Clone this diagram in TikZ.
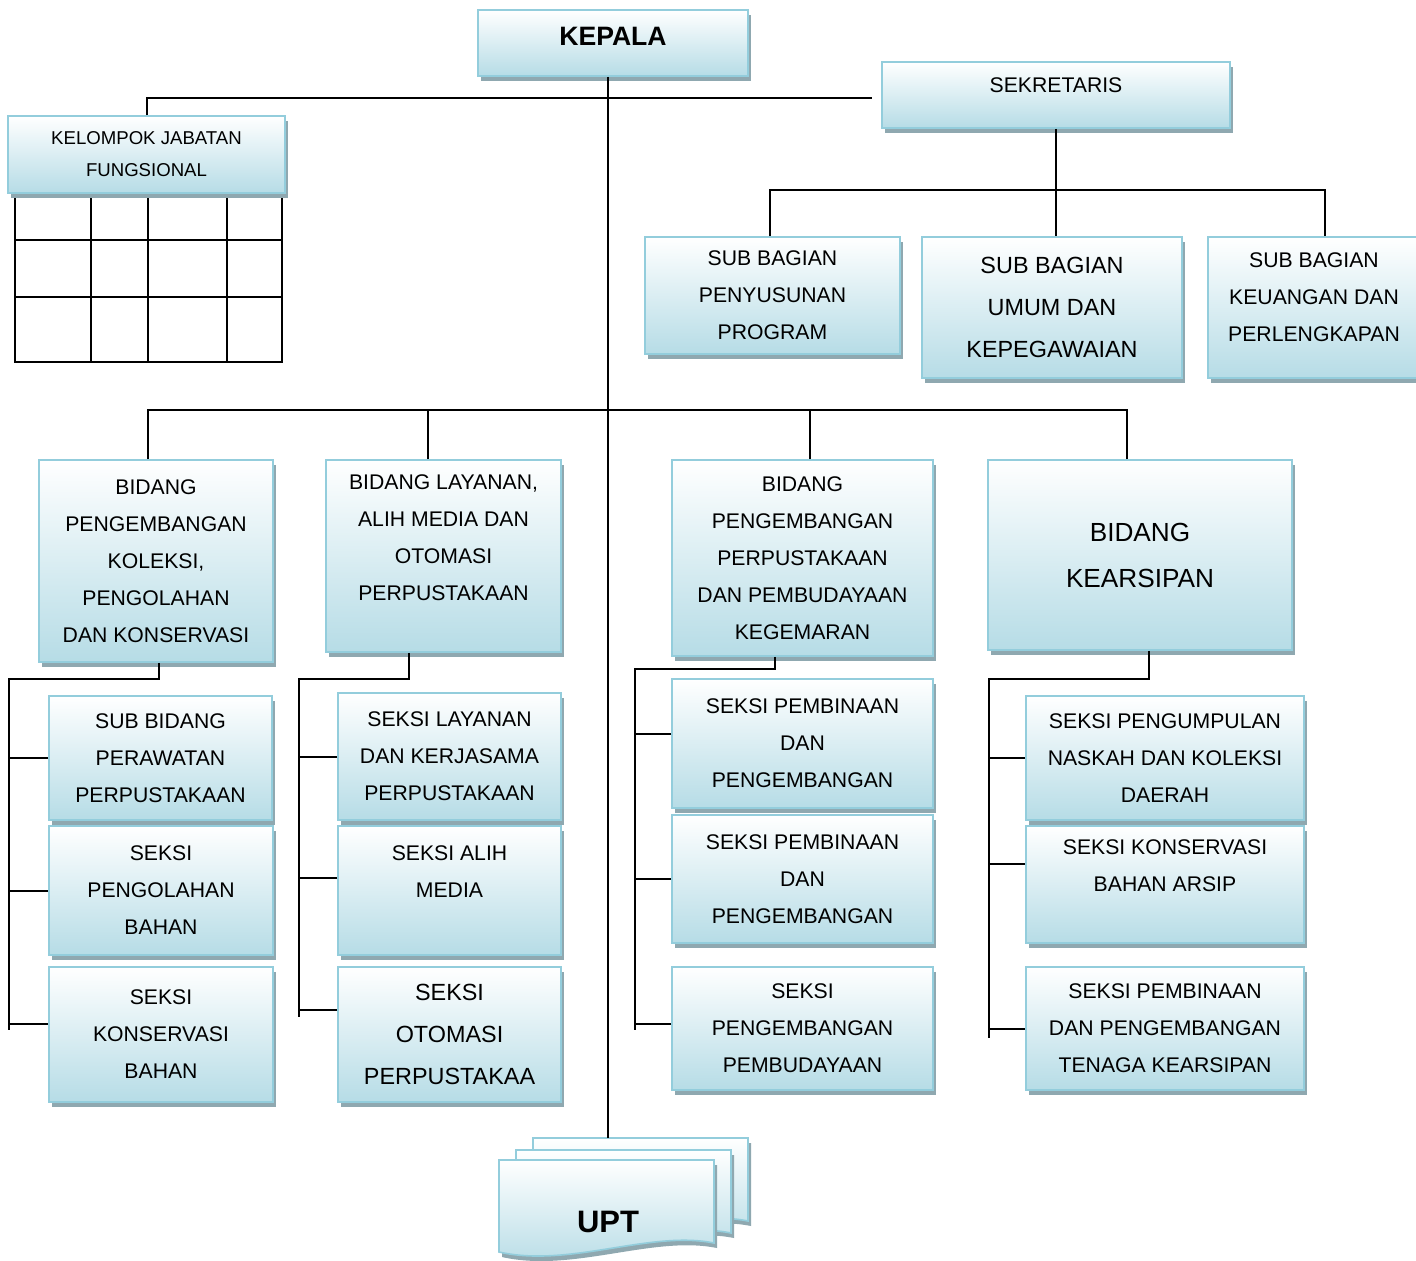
\documentclass[tikz,border=0pt]{standalone}
\usepackage{fontspec}
\setmainfont{Liberation Sans}
\definecolor{orgLine}{HTML}{93CDDC}
\definecolor{orgTop}{HTML}{FFFFFF}
\definecolor{orgBottom}{HTML}{B6DCE6}
\definecolor{orgShadow}{HTML}{8FA8B0}
\usepackage{tikz}
\usetikzlibrary{positioning,shadows}

\newcommand{\orgNormal}{\fontsize{10.6}{18.5}\selectfont}
\newcommand{\orgLarge}{\fontsize{11.7}{20.8}\selectfont}
\newcommand{\orgSmall}{\fontsize{9.3}{16}\selectfont}

\tikzset{
  orgbox/.style={draw=orgLine, line width=0.8pt, top color=orgTop, bottom color=orgBottom,
    drop shadow={shadow xshift=1.5pt, shadow yshift=-2.5pt, fill=orgShadow, opacity=1},
    align=center, inner sep=0pt, font=\orgNormal},
  orgsheet/.style={draw=orgLine, line width=0.8pt, top color=orgTop, bottom color=orgBottom,
    drop shadow={shadow xshift=1.5pt, shadow yshift=-2.5pt, fill=orgShadow, opacity=1}},
  boxsize/.style 2 args={minimum width=#1*0.5pt, minimum height=#2*0.5pt},
  link/.style={draw=black, line width=1pt},
}

\begin{document}
\begin{tikzpicture}[x=0.5pt, y=-0.5pt]
  \fill[white] (0,0) rectangle (1416,1260);
  \useasboundingbox (0,0) rectangle (1416,1260);

  % grid under jabatan fungsional
  \draw[line width=1pt] (15,193) rectangle (282,362);
  \foreach \gx in {91,148,227} \draw[line width=1pt] (\gx,193) -- (\gx,362);
  \foreach \gy in {240,297} \draw[line width=1pt] (15,\gy) -- (282,\gy);

  % top level
  \node[orgbox, boxsize={270}{66}, font=\bfseries\fontsize{13.3}{16}\selectfont, text depth=7pt] (kepala) at (613,43) {KEPALA};
  \node[orgbox, boxsize={348}{66}, text depth=10pt] (sekretaris) at (1056,95) {SEKRETARIS};
  \node[orgbox, boxsize={277}{77}, font=\orgSmall] (kelompok) at (146.5,154.5) {KELOMPOK JABATAN\\FUNGSIONAL};

  % sub bagian
  \node[orgbox, boxsize={255}{117}] (penyusunan) at (772.5,295.5) {SUB BAGIAN\\PENYUSUNAN\\PROGRAM};
  \node[orgbox, boxsize={260}{141}, font=\orgLarge] (umum) at (1052,307.5) {SUB BAGIAN\\UMUM DAN\\KEPEGAWAIAN};
  \node[orgbox, boxsize={212}{141}] (keuangan) at (1314,307.5) {SUB BAGIAN\\KEUANGAN DAN\\PERLENGKAPAN\\[-8pt]\mbox{}};

  % bidang
  \node[orgbox, boxsize={234}{202}] (koleksi) at (156,561) {BIDANG\\PENGEMBANGAN\\KOLEKSI,\\PENGOLAHAN\\DAN KONSERVASI};
  \node[orgbox, boxsize={235}{192}] (layanan) at (443.5,556) {BIDANG LAYANAN,\\ALIH MEDIA DAN\\OTOMASI\\PERPUSTAKAAN\\\mbox{}};
  \node[orgbox, boxsize={261}{196}] (pustaka) at (802.5,558) {BIDANG\\PENGEMBANGAN\\PERPUSTAKAAN\\DAN PEMBUDAYAAN\\KEGEMARAN};
  \node[orgbox, boxsize={304}{190}, font=\fontsize{13.1}{23}\selectfont] (arsip) at (1140,555) {BIDANG\\KEARSIPAN};

  % seksi, column 1
  \node[orgbox, boxsize={223}{124}] (rawat) at (160.5,758) {SUB BIDANG\\PERAWATAN\\PERPUSTAKAAN};
  \node[orgbox, boxsize={224}{129}] (olah) at (161,890.5) {SEKSI\\PENGOLAHAN\\BAHAN};
  \node[orgbox, boxsize={224}{135}] (konsbahan) at (161,1034.5) {SEKSI\\KONSERVASI\\BAHAN};
  % seksi, column 2
  \node[orgbox, boxsize={223}{127}] (kerjasama) at (449.5,756.5) {SEKSI LAYANAN\\DAN KERJASAMA\\PERPUSTAKAAN};
  \node[orgbox, boxsize={223}{129}] (alih) at (449.5,890.5) {SEKSI ALIH\\MEDIA\\\mbox{}};
  \node[orgbox, boxsize={223}{135}, font=\orgLarge] (otomasi) at (449.5,1034.5) {SEKSI\\OTOMASI\\PERPUSTAKAA};
  % seksi, column 3
  \node[orgbox, boxsize={261}{129}] (bina) at (802.5,743.5) {SEKSI PEMBINAAN\\DAN\\PENGEMBANGAN};
  \node[orgbox, boxsize={261}{128}] (binadua) at (802.5,879) {SEKSI PEMBINAAN\\DAN\\PENGEMBANGAN};
  \node[orgbox, boxsize={261}{123}] (budaya) at (802.5,1028.5) {SEKSI\\PENGEMBANGAN\\PEMBUDAYAAN};
  % seksi, column 4
  \node[orgbox, boxsize={278}{124}] (naskah) at (1165,758) {SEKSI PENGUMPULAN\\NASKAH DAN KOLEKSI\\DAERAH};
  \node[orgbox, boxsize={278}{117}] (konsarsip) at (1165,884.5) {SEKSI KONSERVASI\\BAHAN ARSIP\\\mbox{}};
  \node[orgbox, boxsize={278}{123}] (tenaga) at (1165,1028.5) {SEKSI PEMBINAAN\\DAN PENGEMBANGAN\\TENAGA KEARSIPAN};

  % UPT stack
  \foreach \dx/\dy in {34/-22, 17/-10, 0/0}
    \path[orgsheet] (499+\dx,1160+\dy) -- (714+\dx,1160+\dy) -- (714+\dx,1243+\dy)
      .. controls (650+\dx,1230+\dy) and (570+\dx,1268+\dy) .. (499+\dx,1252+\dy) -- cycle;
  \node[font=\bfseries\fontsize{15.5}{18}\selectfont] (upt) at (608,1222) {UPT};

  % spine
  \coordinate (upttop) at (608,1138);
  \draw[link] (kepala.south -| upttop) -- (upttop);
  \draw[link] (kelompok.north) |- ([xshift=-4.5pt,yshift=-1.5pt]sekretaris.west);

  % sekretaris bus
  \coordinate (sekbus) at (1056,190);
  \draw[link] (sekretaris.south) -- (sekbus) -- (sekbus |- umum.north);
  \draw[link] ([xshift=-1.25pt]penyusunan.north) |- (sekbus);
  \draw[link] ([xshift=5.5pt]keuangan.north) |- (sekbus);

  % bidang bus
  \coordinate (bidbus) at (608,410);
  \draw[link] ([xshift=-4pt]koleksi.north) |- (bidbus);
  \draw[link] ([xshift=-7.75pt]layanan.north) |- (bidbus);
  \draw[link] ([xshift=3.75pt]pustaka.north) |- (bidbus);
  \draw[link] ([xshift=-6.5pt]arsip.north) |- (bidbus);

  % column 1 rail
  \coordinate (kolrail) at (9,679);
  \coordinate (kolend) at (9,1030);
  \draw[link] ([xshift=1.5pt]koleksi.south) |- (kolrail) -- (kolend);
  \draw[link] (rawat.west) -| (kolrail);
  \draw[link] (olah.west) -| (kolrail);
  \draw[link] ([yshift=5.25pt]konsbahan.west) -| (kolrail);

  % column 2 rail
  \coordinate (layrail) at (299,679);
  \coordinate (layend) at (299,1017);
  \draw[link] ([xshift=-17.25pt]layanan.south) |- (layrail) -- (layend);
  \draw[link] (kerjasama.west) -| (layrail);
  \draw[link] ([yshift=6.25pt]alih.west) -| (layrail);
  \draw[link] ([yshift=12.25pt]otomasi.west) -| (layrail);

  % column 3 rail
  \coordinate (pusrail) at (635,669);
  \coordinate (pusend) at (635,1030);
  \draw[link] ([xshift=-13.75pt]pustaka.south) |- (pusrail) -- (pusend);
  \draw[link] ([yshift=4.75pt]bina.west) -| (pusrail);
  \draw[link] (binadua.west) -| (pusrail);
  \draw[link] ([yshift=2.25pt]budaya.west) -| (pusrail);

  % column 4 rail
  \coordinate (arsrail) at (989,679);
  \coordinate (arsend) at (989,1038);
  \draw[link] ([xshift=4.5pt]arsip.south) |- (arsrail) -- (arsend);
  \draw[link] (naskah.west) -| (arsrail);
  \draw[link] ([yshift=10.25pt]konsarsip.west) -| (arsrail);
  \draw[link] (tenaga.west) -| (arsrail);
\end{tikzpicture}
\end{document}
